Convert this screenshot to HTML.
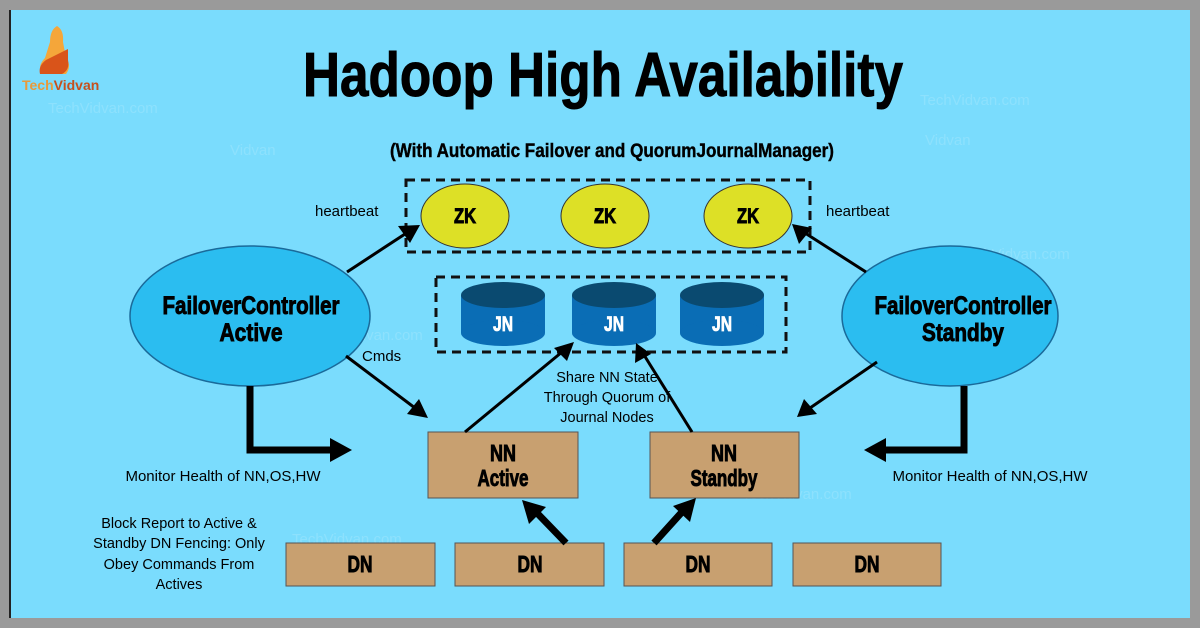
<!DOCTYPE html>
<html><head><meta charset="utf-8"><style>
html,body{margin:0;padding:0;background:#9a9a9a;}
svg{display:block}
text{font-family:"Liberation Sans Narrow","Liberation Sans",sans-serif;}
</style></head><body>
<svg width="1200" height="628" viewBox="0 0 1200 628" xmlns="http://www.w3.org/2000/svg">
<rect x="0" y="0" width="1200" height="628" fill="#9a9a9a"/>
<rect x="9" y="10" width="1181" height="608" fill="#7adcfd"/>
<rect x="9" y="10" width="2" height="608" fill="#222"/>

<!-- logo -->
<path d="M57 26 Q64 30 63 42 L66 58 Q72 66 66 74 L42 74 Q37 66 45 58 L50 42 Q50 30 57 26Z" fill="#f5a63a"/>
<path d="M46 60 L68 49 L68 60 Q70 70 62 74 L40 74 Q38 66 46 60Z" fill="#d9541a"/>
<text x="22" y="90" font-size="14" font-weight="bold" fill="#e89a3a" font-family="Liberation Sans">Tech<tspan fill="#c6501c">Vidvan</tspan></text>

<!-- watermarks -->
<g fill="#ffffff" fill-opacity="0.15" font-family="Liberation Sans" font-size="15">
<text x="48" y="113">TechVidvan.com</text>
<text x="920" y="105">TechVidvan.com</text>
<text x="960" y="259">TechVidvan.com</text>
<text x="313" y="340">TechVidvan.com</text>
<text x="742" y="499">TechVidvan.com</text>
<text x="292" y="544">TechVidvan.com</text>
<text x="230" y="155">Vidvan</text>
<text x="925" y="145">Vidvan</text>
</g>

<!-- titles -->
<text x="603" y="96" font-size="62" font-weight="bold" text-anchor="middle" textLength="600" lengthAdjust="spacingAndGlyphs" fill="#000" stroke="#000" stroke-width="1">Hadoop High Availability</text>
<text x="612" y="157" font-size="19" font-weight="bold" text-anchor="middle" textLength="444" lengthAdjust="spacingAndGlyphs" fill="#000" stroke="#000" stroke-width="0.4">(With Automatic Failover and QuorumJournalManager)</text>

<!-- ZK box -->
<rect x="406" y="180" width="404" height="72" fill="none" stroke="#111" stroke-width="3" stroke-dasharray="9,6"/>
<g fill="#dde026" stroke="#333" stroke-width="1">
<ellipse cx="465" cy="216" rx="44" ry="32"/>
<ellipse cx="605" cy="216" rx="44" ry="32"/>
<ellipse cx="748" cy="216" rx="44" ry="32"/>
</g>
<g font-size="21" font-weight="bold" text-anchor="middle" fill="#000" stroke="#000" stroke-width="0.9">
<text x="465" y="223" textLength="22" lengthAdjust="spacingAndGlyphs">ZK</text><text x="605" y="223" textLength="22" lengthAdjust="spacingAndGlyphs">ZK</text><text x="748" y="223" textLength="22" lengthAdjust="spacingAndGlyphs">ZK</text>
</g>

<!-- JN box -->
<rect x="436" y="277" width="350" height="75" fill="none" stroke="#111" stroke-width="3" stroke-dasharray="9,6"/>
<g transform="translate(503,0)"><rect x="-42" y="295" width="84" height="38" fill="#0a6db5"/><ellipse cx="0" cy="333" rx="42" ry="13" fill="#0a6db5"/><ellipse cx="0" cy="295" rx="42" ry="13" fill="#0a4a70"/></g>
<g transform="translate(614,0)"><rect x="-42" y="295" width="84" height="38" fill="#0a6db5"/><ellipse cx="0" cy="333" rx="42" ry="13" fill="#0a6db5"/><ellipse cx="0" cy="295" rx="42" ry="13" fill="#0a4a70"/></g>
<g transform="translate(722,0)"><rect x="-42" y="295" width="84" height="38" fill="#0a6db5"/><ellipse cx="0" cy="333" rx="42" ry="13" fill="#0a6db5"/><ellipse cx="0" cy="295" rx="42" ry="13" fill="#0a4a70"/></g>
<g font-size="21" font-weight="bold" text-anchor="middle" fill="#fff" stroke="#fff" stroke-width="0.8">
<text x="503" y="331" textLength="20" lengthAdjust="spacingAndGlyphs">JN</text><text x="614" y="331" textLength="20" lengthAdjust="spacingAndGlyphs">JN</text><text x="722" y="331" textLength="20" lengthAdjust="spacingAndGlyphs">JN</text>
</g>

<!-- Failover controllers -->
<ellipse cx="250" cy="316" rx="120" ry="70" fill="#2bbdf0" stroke="#1a6a9a" stroke-width="1.5"/>
<ellipse cx="950" cy="316" rx="108" ry="70" fill="#2bbdf0" stroke="#1a6a9a" stroke-width="1.5"/>
<g font-size="25" font-weight="bold" text-anchor="middle" fill="#000" stroke="#000" stroke-width="0.9">
<text x="251" y="314" textLength="177" lengthAdjust="spacingAndGlyphs">FailoverController</text><text x="251" y="341" textLength="63" lengthAdjust="spacingAndGlyphs">Active</text>
<text x="963" y="314" textLength="177" lengthAdjust="spacingAndGlyphs">FailoverController</text><text x="963" y="341" textLength="82" lengthAdjust="spacingAndGlyphs">Standby</text>
</g>

<!-- NN/DN boxes -->
<g fill="#c8a070" stroke="#555" stroke-width="1">
<rect x="428" y="432" width="150" height="66"/>
<rect x="650" y="432" width="149" height="66"/>
<rect x="286" y="543" width="149" height="43"/>
<rect x="455" y="543" width="149" height="43"/>
<rect x="624" y="543" width="148" height="43"/>
<rect x="793" y="543" width="148" height="43"/>
</g>
<g font-size="23" font-weight="bold" text-anchor="middle" fill="#000" stroke="#000" stroke-width="0.9">
<text x="503" y="461" textLength="26" lengthAdjust="spacingAndGlyphs">NN</text><text x="503" y="486" textLength="51" lengthAdjust="spacingAndGlyphs">Active</text>
<text x="724" y="461" textLength="26" lengthAdjust="spacingAndGlyphs">NN</text><text x="724" y="486" textLength="67" lengthAdjust="spacingAndGlyphs">Standby</text>
<text x="360" y="572" textLength="25" lengthAdjust="spacingAndGlyphs">DN</text><text x="530" y="572" textLength="25" lengthAdjust="spacingAndGlyphs">DN</text><text x="698" y="572" textLength="25" lengthAdjust="spacingAndGlyphs">DN</text><text x="867" y="572" textLength="25" lengthAdjust="spacingAndGlyphs">DN</text>
</g>

<!-- thin arrows -->
<g stroke="#000" stroke-width="3" fill="none">
<line x1="347" y1="272" x2="405" y2="234"/>
<line x1="866" y1="272" x2="805" y2="233"/>
<line x1="346" y1="356" x2="415" y2="408"/>
<line x1="877" y1="362" x2="810" y2="408"/>
<line x1="465" y1="432" x2="562" y2="352"/>
<line x1="692" y1="432" x2="644" y2="355"/>
</g>
<g fill="#000">
<polygon points="420,225 398,226 410,243"/>
<polygon points="792,224 799,244 812,228"/>
<polygon points="428,418 407,414 419,399"/>
<polygon points="797,417 804,399 817,414"/>
<polygon points="574,342 554,348 567,361"/>
<polygon points="636,343 635,363 651,354"/>
</g>
<!-- thick arrows -->
<g stroke="#000" stroke-width="7" fill="none">
<line x1="566" y1="543" x2="538" y2="514"/>
<line x1="654" y1="543" x2="682" y2="512"/>
<polyline points="250,386 250,450 334,450"/>
<polyline points="964,386 964,450 882,450"/>
</g>
<g fill="#000">
<polygon points="522,500 529,524 546,507"/>
<polygon points="696,498 690,522 673,506"/>
<polygon points="352,450 330,438 330,462"/>
<polygon points="864,450 886,438 886,462"/>
</g>

<!-- labels -->
<g font-size="15" fill="#000">
<text x="315" y="216">heartbeat</text>
<text x="826" y="216">heartbeat</text>
<text x="362" y="361">Cmds</text>
<g text-anchor="middle">
<text x="607" y="382" font-size="14.5">Share NN State</text>
<text x="607" y="402" font-size="14.5">Through Quorum of</text>
<text x="607" y="422" font-size="14.5">Journal Nodes</text>
<text x="223" y="481">Monitor Health of NN,OS,HW</text>
<text x="990" y="481">Monitor Health of NN,OS,HW</text>
<text x="179" y="528" font-size="14.5">Block Report to Active &amp;</text>
<text x="179" y="548" font-size="14.5">Standby DN Fencing: Only</text>
<text x="179" y="569" font-size="14.5">Obey Commands From</text>
<text x="179" y="589" font-size="14.5">Actives</text>
</g>
</g>
</svg>
</body></html>
